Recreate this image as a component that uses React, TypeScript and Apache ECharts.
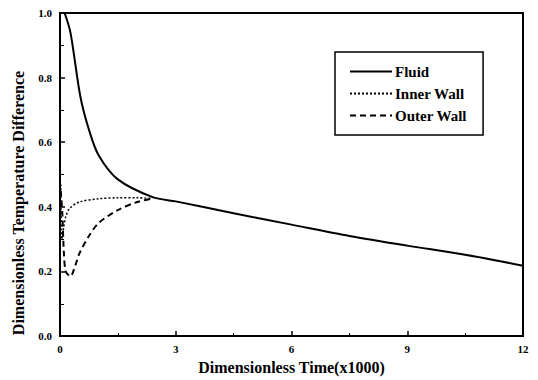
import React, { useEffect, useRef } from "react";
import * as echarts from "echarts";

const fluidX = [0.12, 0.27, 0.53, 0.76, 1.0, 1.5, 2.4, 3, 4.5, 6, 7.5, 9, 10.5, 12];
const fluidY = [1.0, 0.94, 0.74, 0.635, 0.56, 0.485, 0.43, 0.417, 0.38, 0.345, 0.31, 0.28, 0.252, 0.218];
const innerX = [0.02, 0.05, 0.1, 0.15, 0.25, 0.5, 1.0, 1.5, 2.0, 2.4];
const innerY = [0.47, 0.3, 0.34, 0.37, 0.395, 0.415, 0.425, 0.428, 0.428, 0.426];
const outerX = [0.02, 0.06, 0.1, 0.15, 0.27, 0.4, 0.5, 0.75, 1.0, 1.5, 2.0, 2.4];
const outerY = [0.45, 0.38, 0.26, 0.2, 0.185, 0.22, 0.255, 0.31, 0.35, 0.39, 0.415, 0.426];
const seriesNames = ["Fluid", "Inner Wall", "Outer Wall"];
const xTitle = "Dimensionless Time(x1000)";
const yTitle = "Dimensionless Temperature Difference";

const zip = (xs: number[], ys: number[]) => xs.map((x, i) => [x, ys[i]]);
const FONT = "Liberation Serif";

export default function App() {
  const ref = useRef<HTMLDivElement>(null);
  useEffect(() => {
    const chart = echarts.init(ref.current!, null, { renderer: "svg" });
    chart.setOption({
      animation: false,
      backgroundColor: "#fff",
      grid: {
        left: 60,
        right: 15,
        top: 13,
        bottom: 40,
        show: true,
        borderColor: "#000",
        borderWidth: 2,
      },
      graphic: [
        {
          type: "text",
          x: 18,
          y: 203,
          rotation: Math.PI / 2,
          style: {
            text: yTitle,
            fontFamily: FONT,
            fontSize: 16,
            fontWeight: "bold",
            fill: "#000",
            align: "center",
            verticalAlign: "middle",
          },
        },
      ],
      legend: {
        orient: "vertical",
        left: 335,
        top: 52,
        padding: [12, 16, 12, 14],
        itemWidth: 42,
        itemHeight: 14,
        itemGap: 7,
        borderColor: "#000",
        borderWidth: 1.5,
        itemStyle: { opacity: 0 },
        textStyle: { fontFamily: FONT, fontSize: 15, fontWeight: "bold", color: "#000", padding: [0, 0, 0, -2] },
        data: seriesNames,
      },
      xAxis: {
        type: "value",
        min: 0,
        max: 12,
        interval: 3,
        name: xTitle,
        nameLocation: "middle",
        nameGap: 22,
        nameTextStyle: { fontFamily: FONT, fontSize: 16, fontWeight: "bold", color: "#000" },
        axisLine: { lineStyle: { color: "#000", width: 2 } },
        axisTick: { inside: true, length: 5, lineStyle: { color: "#000", width: 1.5 } },
        minorTick: { show: true, splitNumber: 2, length: 3, lineStyle: { color: "#000" } },
        axisLabel: { fontFamily: FONT, fontSize: 11, fontWeight: "bold", color: "#000", margin: 7 },
        splitLine: { show: false },
      },
      yAxis: {
        type: "value",
        min: 0,
        max: 1,
        interval: 0.2,
        axisLine: { lineStyle: { color: "#000", width: 2 } },
        axisTick: { inside: true, length: 5, lineStyle: { color: "#000", width: 1.5 } },
        minorTick: { show: true, splitNumber: 2, length: 4, lineStyle: { color: "#000" } },
        axisLabel: {
          fontFamily: FONT,
          fontSize: 11,
          fontWeight: "bold",
          color: "#000",
          margin: 8,
          formatter: (v: number) => v.toFixed(1),
        },
        splitLine: { show: false },
      },
      series: [
        {
          name: seriesNames[0],
          type: "line",
          smooth: 0.3,
          symbol: "none",
          data: zip(fluidX, fluidY),
          lineStyle: { color: "#000", width: 2, type: "solid" },
          itemStyle: { color: "#000" },
        },
        {
          name: seriesNames[1],
          type: "line",
          smooth: 0.3,
          symbol: "none",
          data: zip(innerX, innerY),
          lineStyle: { color: "#000", width: 1.5, type: [2, 2] },
          itemStyle: { color: "#000" },
        },
        {
          name: seriesNames[2],
          type: "line",
          smooth: 0.3,
          symbol: "none",
          data: zip(outerX, outerY),
          lineStyle: { color: "#000", width: 2, type: [6, 4] },
          itemStyle: { color: "#000" },
        },
      ],
    });
    return () => chart.dispose();
  }, []);
  return <div ref={ref} style={{ width: 538, height: 380, position: "absolute", left: 0, top: 0 }} />;
}
